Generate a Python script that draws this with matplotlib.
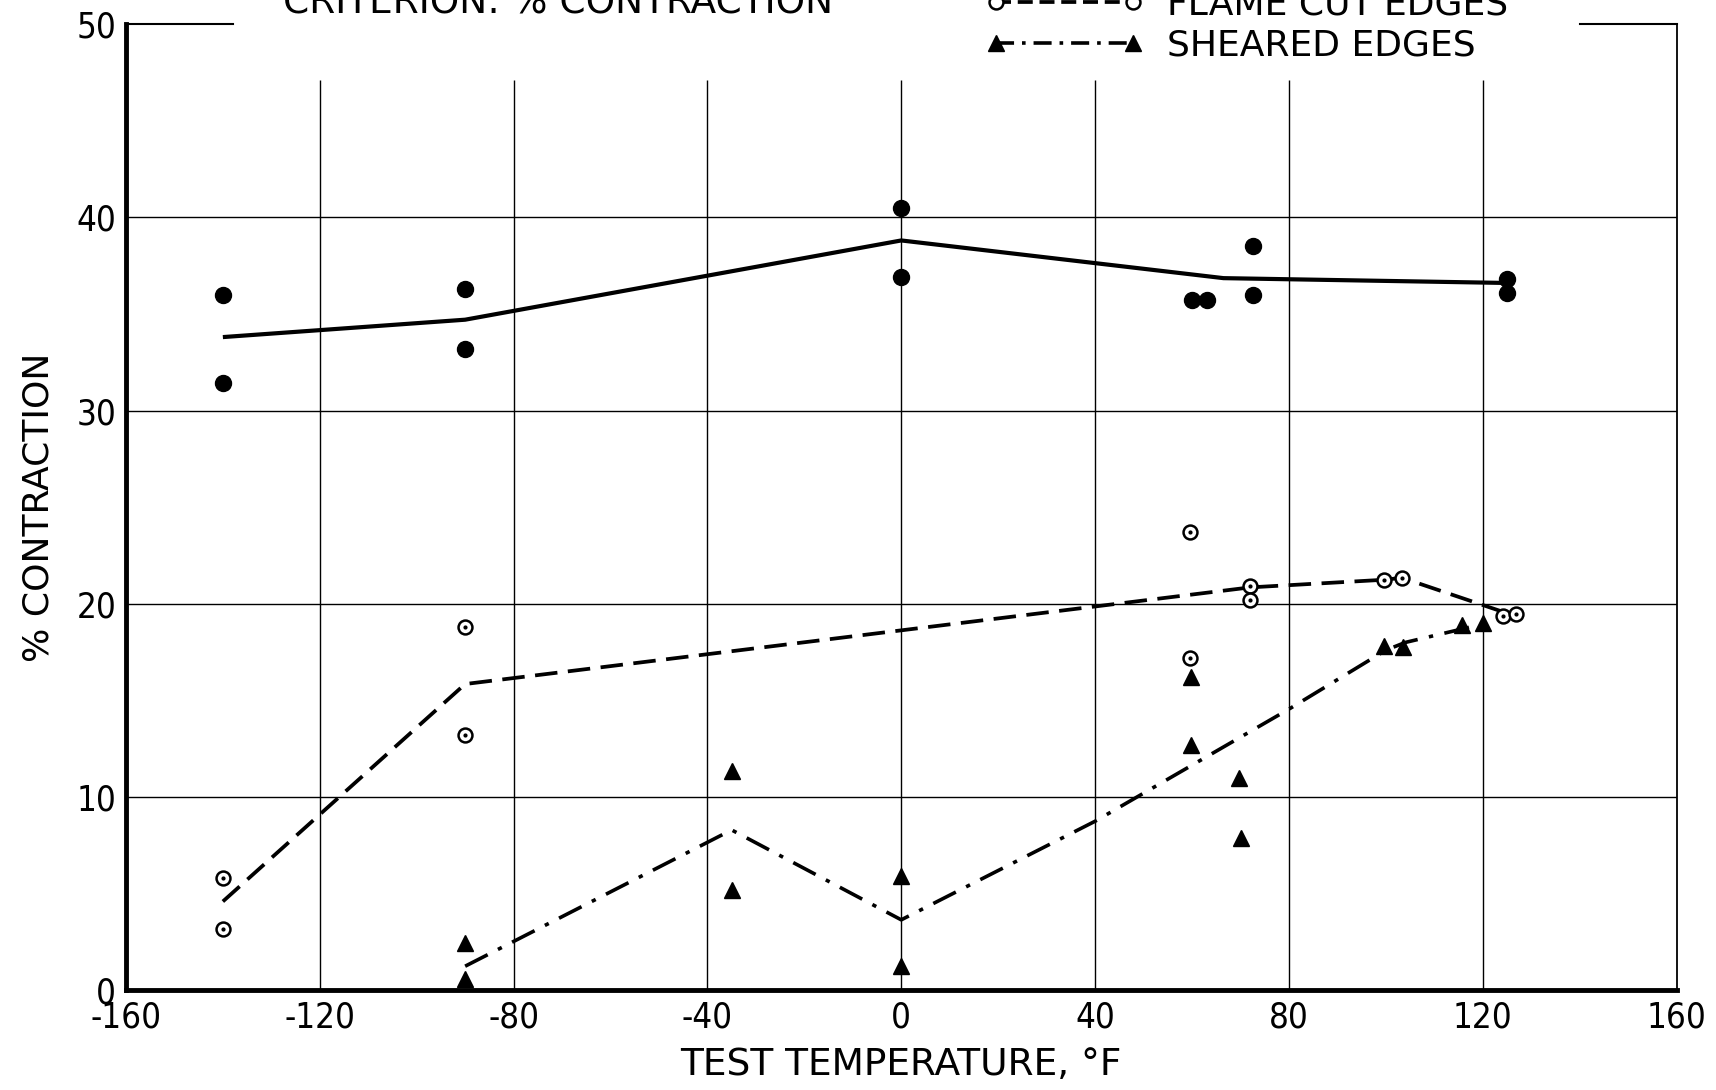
import matplotlib
matplotlib.use('Agg')
import matplotlib.pyplot as plt
from matplotlib.lines import Line2D
from matplotlib import font_manager

# ---------------- data ----------------
plain_x = [-140, -140, -90, -90, 0, 0, 60, 63, 72.5, 72.5, 125, 125]
plain_y = [36.0, 31.4, 36.3, 33.2, 40.5, 36.9, 35.7, 35.7, 38.5, 36.0, 36.8, 36.1]
plain_line_x = [-140, -90, 0, 66.5, 125]
plain_line_y = [33.8, 34.7, 38.8, 36.85, 36.6]

flame_x = [-140, -140, -90, -90, 59.5, 59.5, 72, 72, 99.6, 103.3, 124.2, 126.8]
flame_y = [5.8, 3.2, 18.8, 13.2, 23.7, 17.2, 20.9, 20.2, 21.25, 21.35, 19.35, 19.45]
flame_line_x = [-140, -90, 72, 100, 103.3, 124]
flame_line_y = [4.6, 15.85, 20.85, 21.25, 21.35, 19.6]

sheared_x = [-90, -90, -35, -35, 0, 0, 59.8, 59.8, 69.7, 70.1, 99.7, 103.5, 115.7, 120]
sheared_y = [2.45, 0.6, 11.35, 5.2, 5.9, 1.25, 16.2, 12.7, 11.0, 7.9, 17.8, 17.75, 18.9, 19.0]
sheared_line_x = [-90, -35, 0, 40, 80, 100, 104, 120]
sheared_line_y = [1.25, 8.3, 3.65, 8.75, 14.55, 17.6, 18.0, 18.95]

xticks = [-160, -120, -80, -40, 0, 40, 80, 120, 160]
xtick_labels = ['-160', '-120', '-80', '-40', '0', '40', '80', '120', '160']
yticks = [0, 10, 20, 30, 40, 50]
ytick_labels = ['0', '10', '20', '30', '40', '50']
legend_labels = ['FLAME CUT EDGES', 'SHEARED EDGES']
title_text = 'CRITERION: % CONTRACTION'
xlabel_text = 'TEST TEMPERATURE, \u00b0F'
ylabel_text = '% CONTRACTION'

# ---------------- fonts ----------------
plt.rcParams['font.family'] = ['DejaVu Sans']
tick_stretch = 'normal'
for f in font_manager.fontManager.ttflist:
    if f.name == 'DejaVu Sans' and f.style == 'normal' and 'ondensed' in f.fname \
            and 'Bold' not in f.fname:
        tick_stretch = f.stretch
        break

fig = plt.figure(figsize=(17.16, 10.90), dpi=100)
ax = fig.add_axes([0.0734, 0.0914, 0.977 - 0.0734, 0.978 - 0.0914])
ax.set_xlim(-160, 160)
ax.set_ylim(0, 50)

# grid
for yv in yticks[1:-1]:
    ax.axhline(yv, color='black', lw=1.0, zorder=1)
ax.vlines(xticks[1:-1], 0, 47.1, color='black', lw=1.0, zorder=1)
# partial top border
ax.plot([-160, -138], [50, 50], color='black', lw=1.5, clip_on=False, zorder=2)
ax.plot([140, 160], [50, 50], color='black', lw=1.5, clip_on=False, zorder=2)

ax.spines['top'].set_visible(False)
ax.spines['left'].set_linewidth(3.5)
ax.spines['bottom'].set_linewidth(3.5)
ax.spines['right'].set_linewidth(1.3)

# lines
ax.plot(plain_line_x, plain_line_y, color='black', lw=3.0, solid_capstyle='butt', zorder=3)
ax.plot(flame_line_x, flame_line_y, color='black', lw=2.7, linestyle=(0, (6, 2.8)), zorder=3)
ax.plot(sheared_line_x, sheared_line_y, color='black', lw=2.6,
        linestyle=(0, (7, 3.2, 1.2, 3.2)), zorder=3)

# markers
ax.plot(plain_x, plain_y, 'o', color='black', ms=11.5, zorder=4)
ax.plot(flame_x, flame_y, 'o', mfc='white', mec='black', mew=1.8, ms=10, zorder=4)
ax.plot(flame_x, flame_y, 'o', color='black', ms=2, zorder=5)
ax.plot(sheared_x, sheared_y, '^', color='black', ms=11.5, zorder=4)

# ticks
ax.set_xticks(xticks)
ax.set_xticklabels(xtick_labels, fontstretch=tick_stretch)
ax.set_yticks(yticks)
ax.set_yticklabels(ytick_labels, fontstretch=tick_stretch)
ax.tick_params(length=0, labelsize=25)
ax.tick_params(axis='x', pad=7)
ax.tick_params(axis='y', pad=7)

ax.set_xlabel(xlabel_text, fontsize=27, labelpad=9)
ax.set_ylabel(ylabel_text, fontsize=26, labelpad=15)

# title (cut off at top edge as in reference)
fig.text(0.325, 0.988, title_text, fontsize=27, ha='center', va='baseline')

# legend
h_flame = Line2D([], [], color='black', lw=2.7, linestyle=(0, (4, 1.8)),
                 marker='o', mfc='white', mec='black', mew=1.8, ms=10)
h_sheared = Line2D([], [], color='black', lw=2.6, linestyle=(0, (5, 2.2, 1, 2.2)),
                   marker='^', ms=11.5)
fig.legend([h_flame, h_sheared], legend_labels, loc='center left',
           bbox_to_anchor=(0.574, 0.977), frameon=False, numpoints=2,
           handlelength=4.4, handletextpad=0.65, labelspacing=0.2,
           borderpad=0, borderaxespad=0, fontsize=26)

fig.savefig('out.png', dpi=100)
